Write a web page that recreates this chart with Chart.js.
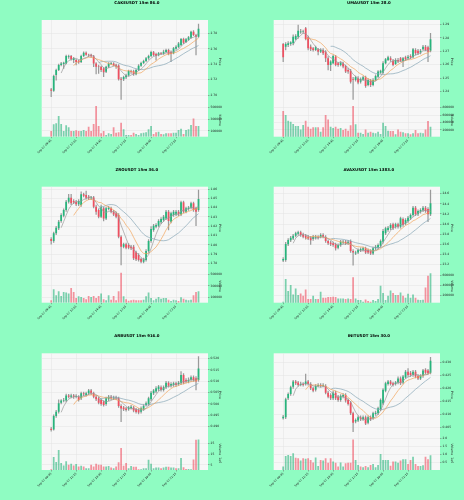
<!DOCTYPE html>
<html><head><meta charset="utf-8">
<script src="https://cdn.jsdelivr.net/npm/chart.js@4.4.1/dist/chart.umd.min.js"></script>
<style>
html,body{margin:0;padding:0;background:#8ffcc2;}
#wrap{position:relative;width:464px;height:500px;overflow:hidden;background:#8ffcc2;}
canvas{position:absolute;}
</style></head><body><div id="wrap"></div>
<script>
const times = ['Sep 07 09:45','Sep 07 10:00','Sep 07 10:15','Sep 07 10:30','Sep 07 10:45','Sep 07 11:00','Sep 07 11:15','Sep 07 11:30','Sep 07 11:45','Sep 07 12:00',
'Sep 07 12:15','Sep 07 12:30','Sep 07 12:45','Sep 07 13:00','Sep 07 13:15','Sep 07 13:30','Sep 07 13:45','Sep 07 14:00','Sep 07 14:15','Sep 07 14:30',
'Sep 07 14:45','Sep 07 15:00','Sep 07 15:15','Sep 07 15:30','Sep 07 15:45','Sep 07 16:00','Sep 07 16:15','Sep 07 16:30','Sep 07 16:45','Sep 07 17:00',
'Sep 07 17:15','Sep 07 17:30','Sep 07 17:45','Sep 07 18:00','Sep 07 18:15','Sep 07 18:30','Sep 07 18:45','Sep 07 19:00','Sep 07 19:15','Sep 07 19:30',
'Sep 07 19:45','Sep 07 20:00','Sep 07 20:15','Sep 07 20:30','Sep 07 20:45','Sep 07 21:00','Sep 07 21:15','Sep 07 21:30','Sep 07 21:45','Sep 07 22:00',
'Sep 07 22:15','Sep 07 22:30','Sep 07 22:45','Sep 07 23:00','Sep 07 23:15','Sep 07 23:30','Sep 07 23:45','Sep 08 00:00','Sep 08 00:15','Sep 08 00:30'];
const tickIndex = [0,10,20,30,40,50];
const maPeriods = [5,10,20];

// ---- CAKEUSDT ----  [open, high, low, close]
const cakeOHLC = [[2.7074,2.7087,2.6979,2.7057],[2.7057,2.7260,2.7048,2.7247],[2.7260,2.7338,2.7195,2.7325],[2.7325,2.7403,2.7316,2.7390],[2.7390,2.7424,2.7377,2.7411],[2.7403,2.7428,2.7346,2.7420],[2.7411,2.7519,2.7403,2.7506],[2.7498,2.7519,2.7476,2.7506],[2.7506,2.7515,2.7454,2.7463],[2.7454,2.7489,2.7420,2.7476],
[2.7454,2.7463,2.7390,2.7428],[2.7446,2.7454,2.7411,2.7424],[2.7428,2.7519,2.7420,2.7506],[2.7506,2.7562,2.7498,2.7549],[2.7549,2.7562,2.7515,2.7524],[2.7524,2.7532,2.7498,2.7515],[2.7524,2.7532,2.7489,2.7502],[2.7502,2.7515,2.7368,2.7411],[2.7411,2.7420,2.7273,2.7368],[2.7368,2.7390,2.7282,2.7364],
[2.7368,2.7377,2.7303,2.7325],[2.7346,2.7355,2.7238,2.7295],[2.7303,2.7377,2.7290,2.7368],[2.7368,2.7420,2.7355,2.7411],[2.7407,2.7424,2.7394,2.7415],[2.7411,2.7420,2.7377,2.7385],[2.7394,2.7403,2.7346,2.7368],[2.7385,2.7394,2.7195,2.7204],[2.7212,2.7230,2.6945,2.7200],[2.7204,2.7247,2.7187,2.7234],
[2.7230,2.7273,2.7212,2.7256],[2.7256,2.7325,2.7247,2.7312],[2.7312,2.7325,2.7282,2.7299],[2.7308,2.7325,2.7256,2.7269],[2.7269,2.7338,2.7260,2.7325],[2.7325,2.7394,2.7316,2.7381],[2.7381,2.7428,2.7372,2.7415],[2.7415,2.7454,2.7407,2.7441],[2.7441,2.7489,2.7433,2.7476],[2.7476,2.7519,2.7463,2.7506],
[2.7506,2.7571,2.7498,2.7558],[2.7554,2.7567,2.7506,2.7519],[2.7532,2.7545,2.7454,2.7506],[2.7515,2.7554,2.7506,2.7541],[2.7541,2.7554,2.7524,2.7532],[2.7536,2.7584,2.7528,2.7562],[2.7558,2.7597,2.7549,2.7584],[2.7584,2.7597,2.7519,2.7532],[2.7562,2.7575,2.7433,2.7532],[2.7541,2.7619,2.7532,2.7606],
[2.7601,2.7640,2.7593,2.7627],[2.7623,2.7683,2.7614,2.7670],[2.7649,2.7735,2.7640,2.7727],[2.7727,2.7740,2.7666,2.7679],[2.7688,2.7735,2.7679,2.7722],[2.7718,2.7761,2.7709,2.7748],[2.7744,2.7830,2.7735,2.7822],[2.7822,2.7835,2.7770,2.7778],[2.7778,2.7787,2.7519,2.7757],[2.7757,2.7921,2.7748,2.7860]];
const cakeVol = [97000,210000,227000,352000,216000,97000,193000,159000,97000,97000,108000,97000,97000,114000,97000,170000,97000,216000,523000,182000,57000,97000,28000,57000,45000,159000,68000,74000,239000,125000,28000,28000,28000,68000,45000,28000,57000,68000,74000,125000,182000,45000,74000,85000,45000,40000,57000,57000,57000,68000,68000,114000,136000,45000,114000,125000,199000,312000,182000,182000];
const cakePriceTicks = [2.70,2.72,2.74,2.76,2.78];
const cakeVolTicks = [100000,200000,300000,400000,500000];

// ---- UMAUSDT ----
const umaOHLC = [[1.2754,1.2759,1.2623,1.2655],[1.2734,1.2764,1.2709,1.2754],[1.2747,1.2771,1.2734,1.2759],[1.2754,1.2771,1.2744,1.2766],[1.2759,1.2821,1.2747,1.2808],[1.2789,1.2823,1.2784,1.2813],[1.2808,1.2895,1.2796,1.2853],[1.2841,1.2863,1.2833,1.2846],[1.2846,1.2858,1.2833,1.2851],[1.2870,1.2878,1.2784,1.2791],
[1.2803,1.2813,1.2709,1.2722],[1.2734,1.2747,1.2704,1.2714],[1.2722,1.2729,1.2700,1.2709],[1.2709,1.2739,1.2704,1.2729],[1.2714,1.2722,1.2672,1.2697],[1.2697,1.2719,1.2690,1.2709],[1.2709,1.2719,1.2675,1.2685],[1.2697,1.2704,1.2623,1.2648],[1.2648,1.2660,1.2561,1.2598],[1.2598,1.2630,1.2556,1.2623],
[1.2610,1.2672,1.2605,1.2665],[1.2660,1.2670,1.2591,1.2598],[1.2610,1.2618,1.2588,1.2598],[1.2598,1.2623,1.2591,1.2615],[1.2610,1.2620,1.2576,1.2586],[1.2591,1.2598,1.2541,1.2549],[1.2561,1.2573,1.2536,1.2549],[1.2556,1.2566,1.2462,1.2474],[1.2492,1.2506,1.2343,1.2487],[1.2487,1.2516,1.2477,1.2506],
[1.2499,1.2511,1.2457,1.2467],[1.2474,1.2502,1.2462,1.2492],[1.2487,1.2516,1.2482,1.2506],[1.2506,1.2516,1.2432,1.2442],[1.2450,1.2497,1.2442,1.2487],[1.2482,1.2492,1.2437,1.2450],[1.2450,1.2497,1.2442,1.2487],[1.2487,1.2524,1.2482,1.2516],[1.2511,1.2556,1.2506,1.2549],[1.2541,1.2561,1.2536,1.2556],
[1.2541,1.2623,1.2536,1.2610],[1.2610,1.2648,1.2605,1.2640],[1.2635,1.2665,1.2630,1.2655],[1.2648,1.2660,1.2625,1.2635],[1.2630,1.2640,1.2591,1.2598],[1.2605,1.2645,1.2601,1.2635],[1.2635,1.2648,1.2615,1.2623],[1.2648,1.2655,1.2623,1.2630],[1.2628,1.2655,1.2586,1.2648],[1.2655,1.2665,1.2630,1.2640],
[1.2648,1.2670,1.2640,1.2660],[1.2665,1.2675,1.2645,1.2655],[1.2655,1.2722,1.2650,1.2714],[1.2709,1.2719,1.2672,1.2685],[1.2704,1.2714,1.2675,1.2685],[1.2690,1.2714,1.2680,1.2704],[1.2714,1.2744,1.2709,1.2734],[1.2734,1.2744,1.2704,1.2709],[1.2729,1.2739,1.2623,1.2697],[1.2704,1.2833,1.2695,1.2789]];
const umaVol = [708000,601000,448000,421000,359000,305000,305000,215000,332000,448000,287000,233000,269000,269000,269000,152000,269000,601000,484000,287000,251000,287000,233000,251000,197000,233000,179000,323000,843000,350000,126000,126000,90000,215000,126000,152000,126000,108000,152000,90000,395000,305000,179000,170000,170000,81000,215000,152000,135000,108000,108000,81000,108000,197000,108000,126000,108000,215000,439000,287000];
const umaPriceTicks = [1.24,1.25,1.26,1.27,1.28,1.29];
const umaVolTicks = [200000,400000,600000,800000];

// ---- ZROUSDT ----
const zroOHLC = [[1.8062,1.8076,1.8005,1.8040],[1.8040,1.8137,1.8026,1.8123],[1.8123,1.8198,1.8109,1.8184],[1.8177,1.8263,1.8162,1.8248],[1.8256,1.8335,1.8241,1.8320],[1.8313,1.8388,1.8299,1.8374],[1.8374,1.8478,1.8360,1.8464],[1.8464,1.8543,1.8449,1.8507],[1.8507,1.8543,1.8431,1.8446],[1.8471,1.8485,1.8442,1.8457],
[1.8464,1.8478,1.8421,1.8435],[1.8435,1.8485,1.8421,1.8471],[1.8428,1.8571,1.8413,1.8543],[1.8543,1.8557,1.8514,1.8528],[1.8535,1.8578,1.8492,1.8507],[1.8517,1.8532,1.8485,1.8500],[1.8500,1.8521,1.8485,1.8510],[1.8510,1.8521,1.8396,1.8410],[1.8410,1.8428,1.8327,1.8356],[1.8374,1.8388,1.8288,1.8302],
[1.8302,1.8428,1.8292,1.8410],[1.8392,1.8406,1.8256,1.8284],[1.8284,1.8406,1.8270,1.8392],[1.8385,1.8413,1.8374,1.8399],[1.8392,1.8406,1.8342,1.8356],[1.8356,1.8370,1.8313,1.8327],[1.8338,1.8352,1.8288,1.8302],[1.8320,1.8335,1.8073,1.8087],[1.8087,1.8098,1.7782,1.7979],[1.7979,1.8019,1.7965,1.8005],
[1.8005,1.8019,1.7954,1.7969],[1.7997,1.8012,1.7954,1.7969],[1.7979,1.7994,1.7947,1.7962],[1.7979,1.7994,1.7840,1.7854],[1.7918,1.7933,1.7829,1.7843],[1.7890,1.7904,1.7822,1.7836],[1.7847,1.7857,1.7804,1.7818],[1.7818,1.7857,1.7804,1.7843],[1.7836,1.7947,1.7822,1.7933],[1.7933,1.8055,1.7918,1.8040],
[1.8040,1.8195,1.8026,1.8170],[1.8159,1.8220,1.8144,1.8205],[1.8195,1.8227,1.8180,1.8213],[1.8205,1.8270,1.8191,1.8256],[1.8241,1.8292,1.8227,1.8277],[1.8266,1.8317,1.8252,1.8302],[1.8284,1.8370,1.8270,1.8356],[1.8356,1.8370,1.8159,1.8256],[1.8248,1.8352,1.8234,1.8338],[1.8320,1.8370,1.8306,1.8356],
[1.8327,1.8370,1.8313,1.8356],[1.8356,1.8370,1.8313,1.8327],[1.8327,1.8471,1.8313,1.8457],[1.8457,1.8471,1.8342,1.8356],[1.8356,1.8406,1.8342,1.8392],[1.8385,1.8413,1.8370,1.8399],[1.8399,1.8460,1.8385,1.8446],[1.8446,1.8460,1.8360,1.8374],[1.8392,1.8406,1.8205,1.8356],[1.8374,1.8589,1.8360,1.8492]];
const zroVol = [42000,238000,131000,202000,119000,190000,179000,161000,262000,190000,83000,113000,101000,83000,60000,119000,101000,119000,83000,119000,161000,60000,42000,131000,54000,119000,42000,202000,530000,113000,60000,36000,42000,54000,42000,42000,42000,54000,113000,179000,83000,42000,71000,101000,71000,83000,83000,54000,30000,54000,42000,30000,95000,71000,54000,42000,54000,131000,190000,202000];
const zroPriceTicks = [1.78,1.79,1.80,1.81,1.82,1.83,1.84,1.85,1.86];
const zroVolTicks = [100000,200000,300000,400000,500000];

// ---- AVAXUSDT ----
const avaxOHLC = [[23.284,23.337,23.258,23.311],[23.291,23.639,23.264,23.607],[23.600,23.712,23.574,23.686],[23.679,23.758,23.653,23.732],[23.718,23.797,23.692,23.771],[23.771,23.843,23.745,23.817],[23.811,23.863,23.784,23.837],[23.837,23.863,23.758,23.784],[23.797,23.824,23.725,23.751],[23.771,23.797,23.705,23.732],
[23.751,23.778,23.692,23.718],[23.732,23.758,23.600,23.679],[23.705,23.778,23.679,23.751],[23.732,23.778,23.705,23.751],[23.745,23.771,23.705,23.732],[23.751,23.811,23.725,23.784],[23.784,23.811,23.725,23.751],[23.745,23.771,23.639,23.666],[23.666,23.692,23.593,23.620],[23.639,23.666,23.574,23.600],
[23.620,23.646,23.561,23.587],[23.600,23.626,23.488,23.521],[23.534,23.613,23.508,23.587],[23.587,23.679,23.561,23.653],[23.639,23.679,23.613,23.653],[23.653,23.679,23.593,23.620],[23.620,23.679,23.593,23.653],[23.666,23.692,23.442,23.468],[23.468,23.495,23.192,23.442],[23.422,23.468,23.396,23.442],
[23.442,23.514,23.416,23.488],[23.482,23.534,23.455,23.508],[23.495,23.547,23.468,23.521],[23.521,23.547,23.416,23.442],[23.488,23.514,23.416,23.442],[23.468,23.495,23.396,23.422],[23.422,23.547,23.396,23.521],[23.521,23.580,23.495,23.554],[23.534,23.613,23.508,23.587],[23.574,23.692,23.547,23.666],
[23.653,23.896,23.626,23.863],[23.817,23.942,23.791,23.916],[23.883,23.955,23.857,23.929],[23.916,24.008,23.889,23.982],[23.995,24.021,23.889,23.916],[23.949,24.021,23.922,23.995],[23.995,24.021,23.922,23.949],[23.949,24.139,23.922,24.113],[24.100,24.126,23.955,23.982],[24.014,24.107,23.988,24.080],
[24.061,24.153,24.034,24.126],[24.113,24.205,24.087,24.179],[24.179,24.350,24.153,24.324],[24.324,24.350,24.166,24.192],[24.192,24.284,24.166,24.258],[24.245,24.304,24.218,24.278],[24.271,24.350,24.245,24.324],[24.324,24.350,24.232,24.258],[24.297,24.324,24.047,24.192],[24.192,24.672,24.166,24.409]];
const avaxVol = [67000,520000,280000,400000,213000,333000,200000,233000,187000,313000,120000,120000,187000,120000,120000,267000,147000,147000,160000,160000,167000,160000,133000,133000,133000,120000,133000,120000,553000,133000,100000,100000,67000,113000,80000,67000,100000,80000,120000,387000,240000,100000,187000,293000,240000,200000,200000,253000,187000,147000,227000,147000,213000,147000,107000,100000,107000,353000,587000,633000];
const avaxPriceTicks = [23.2,23.4,23.6,23.8,24.0,24.2,24.4,24.6];
const avaxVolTicks = [200000,400000,600000];

// ---- ARBUSDT ----
const arbOHLC = [[0.4891,0.4897,0.4880,0.4885],[0.4888,0.4952,0.4885,0.4947],[0.4947,0.4972,0.4941,0.4966],[0.4966,0.5018,0.4960,0.5003],[0.5006,0.5019,0.5000,0.5015],[0.5015,0.5025,0.5009,0.5018],[0.5015,0.5044,0.5009,0.5038],[0.5038,0.5043,0.5027,0.5032],[0.5032,0.5044,0.5027,0.5038],[0.5038,0.5043,0.5025,0.5032],
[0.5032,0.5041,0.5027,0.5035],[0.5032,0.5037,0.5012,0.5018],[0.5025,0.5053,0.5019,0.5047],[0.5047,0.5053,0.5037,0.5043],[0.5040,0.5053,0.5035,0.5047],[0.5047,0.5065,0.5041,0.5059],[0.5059,0.5065,0.5041,0.5047],[0.5047,0.5053,0.5027,0.5032],[0.5032,0.5038,0.5015,0.5021],[0.5025,0.5031,0.5000,0.5006],
[0.5018,0.5024,0.4994,0.5000],[0.5011,0.5015,0.4990,0.4996],[0.5000,0.5031,0.4994,0.5025],[0.5021,0.5038,0.5015,0.5032],[0.5032,0.5038,0.5019,0.5025],[0.5025,0.5035,0.5019,0.5029],[0.5029,0.5035,0.5019,0.5025],[0.5025,0.5031,0.4985,0.4991],[0.4991,0.4997,0.4922,0.4980],[0.4985,0.4990,0.4971,0.4977],
[0.4980,0.4985,0.4968,0.4974],[0.4977,0.4990,0.4972,0.4985],[0.4981,0.4994,0.4977,0.4988],[0.4985,0.4990,0.4965,0.4971],[0.4977,0.4981,0.4959,0.4965],[0.4974,0.4980,0.4956,0.4962],[0.4966,0.4987,0.4960,0.4981],[0.4977,0.4997,0.4972,0.4991],[0.4996,0.5009,0.4990,0.5003],[0.5000,0.5031,0.4994,0.5025],
[0.5021,0.5056,0.5015,0.5050],[0.5047,0.5065,0.5041,0.5059],[0.5055,0.5077,0.5049,0.5069],[0.5065,0.5082,0.5059,0.5077],[0.5074,0.5080,0.5056,0.5062],[0.5062,0.5080,0.5056,0.5074],[0.5074,0.5100,0.5068,0.5094],[0.5094,0.5099,0.5074,0.5080],[0.5080,0.5094,0.5074,0.5088],[0.5084,0.5097,0.5078,0.5091],
[0.5091,0.5097,0.5078,0.5084],[0.5088,0.5100,0.5082,0.5094],[0.5091,0.5143,0.5085,0.5128],[0.5128,0.5134,0.5088,0.5094],[0.5106,0.5112,0.5093,0.5099],[0.5099,0.5115,0.5093,0.5106],[0.5106,0.5124,0.5100,0.5118],[0.5118,0.5124,0.5100,0.5106],[0.5113,0.5121,0.5062,0.5099],[0.5106,0.5209,0.5100,0.5157]];
const arbVol = [700000,12300000,7700000,19000000,6700000,4300000,8300000,5000000,6000000,4300000,5700000,3300000,4000000,3300000,1700000,1700000,5000000,3300000,6000000,5000000,5000000,3300000,3300000,3700000,2300000,1700000,3300000,7300000,21000000,4000000,6700000,1700000,3700000,3000000,3000000,700000,700000,1700000,1700000,9700000,6000000,1700000,2300000,2300000,1700000,2300000,3000000,3000000,2300000,2300000,1700000,1700000,11300000,2700000,1000000,1000000,700000,10000000,28700000,29000000];
const arbPriceTicks = [0.490,0.495,0.500,0.505,0.510,0.515,0.520];
const arbVolTicks = [5000000,10000000,15000000,20000000,25000000];

// ---- INITUSDT ----
const initOHLC = [[0.4085,0.4096,0.4081,0.4091],[0.4089,0.4162,0.4083,0.4158],[0.4162,0.4183,0.4156,0.4178],[0.4178,0.4209,0.4173,0.4204],[0.4206,0.4231,0.4200,0.4226],[0.4226,0.4231,0.4214,0.4219],[0.4222,0.4227,0.4208,0.4213],[0.4213,0.4224,0.4209,0.4217],[0.4217,0.4222,0.4208,0.4213],[0.4217,0.4255,0.4212,0.4226],
[0.4226,0.4231,0.4212,0.4217],[0.4217,0.4222,0.4195,0.4200],[0.4200,0.4205,0.4186,0.4191],[0.4194,0.4214,0.4189,0.4209],[0.4209,0.4218,0.4205,0.4213],[0.4213,0.4218,0.4204,0.4209],[0.4209,0.4218,0.4205,0.4213],[0.4209,0.4214,0.4178,0.4183],[0.4183,0.4189,0.4163,0.4168],[0.4174,0.4180,0.4156,0.4162],
[0.4162,0.4189,0.4156,0.4183],[0.4183,0.4189,0.4156,0.4162],[0.4168,0.4173,0.4150,0.4155],[0.4155,0.4176,0.4150,0.4171],[0.4168,0.4180,0.4163,0.4174],[0.4174,0.4180,0.4147,0.4153],[0.4155,0.4160,0.4135,0.4140],[0.4145,0.4150,0.4099,0.4104],[0.4104,0.4109,0.4033,0.4068],[0.4072,0.4083,0.4067,0.4078],
[0.4076,0.4094,0.4072,0.4089],[0.4089,0.4094,0.4076,0.4081],[0.4081,0.4094,0.4077,0.4089],[0.4089,0.4094,0.4060,0.4065],[0.4068,0.4094,0.4063,0.4089],[0.4089,0.4094,0.4076,0.4081],[0.4085,0.4109,0.4080,0.4104],[0.4101,0.4112,0.4096,0.4106],[0.4104,0.4128,0.4099,0.4123],[0.4119,0.4160,0.4114,0.4155],
[0.4142,0.4199,0.4137,0.4194],[0.4191,0.4224,0.4186,0.4219],[0.4217,0.4231,0.4212,0.4226],[0.4226,0.4231,0.4212,0.4217],[0.4219,0.4224,0.4208,0.4213],[0.4217,0.4227,0.4212,0.4222],[0.4222,0.4244,0.4217,0.4238],[0.4238,0.4244,0.4214,0.4219],[0.4222,0.4250,0.4217,0.4245],[0.4242,0.4269,0.4238,0.4264],
[0.4264,0.4276,0.4246,0.4251],[0.4260,0.4265,0.4246,0.4251],[0.4251,0.4269,0.4246,0.4264],[0.4264,0.4269,0.4240,0.4245],[0.4247,0.4253,0.4233,0.4238],[0.4238,0.4253,0.4233,0.4247],[0.4247,0.4273,0.4242,0.4268],[0.4271,0.4276,0.4255,0.4260],[0.4268,0.4273,0.4253,0.4258],[0.4260,0.4319,0.4255,0.4306]];
const initVol = [250000,910000,970000,910000,1070000,800000,760000,620000,760000,740000,760000,660000,510000,820000,290000,660000,620000,760000,490000,760000,560000,490000,250000,510000,250000,450000,490000,490000,1930000,660000,350000,250000,210000,290000,210000,350000,410000,210000,350000,1030000,660000,660000,660000,310000,560000,560000,490000,620000,700000,700000,410000,660000,860000,410000,290000,290000,330000,860000,700000,950000];
const initPriceTicks = [0.405,0.410,0.415,0.420,0.425,0.430];
const initVolTicks = [500000,1000000,1500000,2000000];

const panels = [
  {title:'CAKEUSDT 15m 86.0', ohlc:cakeOHLC, vol:cakeVol, pt:cakePriceTicks, vt:cakeVolTicks, pMin:2.6893, pMax:2.7973, vMin:0, vMax:568000, dec:2, vDiv:1, vDec:0, vTitle:'Volume'},
  {title:'UMAUSDT 15m 28.0', ohlc:umaOHLC, vol:umaVol, pt:umaPriceTicks, vt:umaVolTicks, pMin:1.2313, pMax:1.2932, vMin:18000, vMax:915000, dec:2, vDiv:1, vDec:0, vTitle:'Volume'},
  {title:'ZROUSDT 15m 36.0', ohlc:zroOHLC, vol:zroVol, pt:zroPriceTicks, vt:zroVolTicks, pMin:1.7733, pMax:1.8625, vMin:0, vMax:586000, dec:2, vDiv:1, vDec:0, vTitle:'Volume'},
  {title:'AVAXUSDT 15m 1383.0', ohlc:avaxOHLC, vol:avaxVol, pt:avaxPriceTicks, vt:avaxVolTicks, pMin:23.103, pMax:24.738, vMin:47000, vMax:709000, dec:1, vDiv:1, vDec:0, vTitle:'Volume'},
  {title:'ARBUSDT 15m 916.0', ohlc:arbOHLC, vol:arbVol, pt:arbPriceTicks, vt:arbVolTicks, pMin:0.4856, pMax:0.52235, vMin:0, vMax:31700000, dec:3, vDiv:1e6, vDec:0, vTitle:'Volume  1e6'},
  {title:'INITUSDT 15m 30.0', ohlc:initOHLC, vol:initVol, pt:initPriceTicks, vt:initVolTicks, pMin:0.40141, pMax:0.43346, vMin:40000, vMax:2100000, dec:3, vDiv:1e6, vDec:1, vTitle:'Volume  1e6'}
];
const layouts = [
  {left:0,   top:0,   h:165, tt:0.66, tb:14.66, xh:28.3},
  {left:232, top:0,   h:165, tt:0.66, tb:14.66, xh:28.3},
  {left:0,   top:165, h:165, tt:2.66, tb:14.36, xh:27.3},
  {left:232, top:165, h:165, tt:2.66, tb:14.36, xh:27.3},
  {left:0,   top:330, h:170, tt:3.66, tb:14.96, xh:30},
  {left:232, top:330, h:170, tt:3.66, tb:14.96, xh:30}
];

const FONT = 'DejaVu Sans';
const UP = '#26b57c', DOWN = '#ef4f60', WICK = '#9a9a9a';
const UPV = 'rgba(38,181,124,0.6)', DOWNV = 'rgba(239,79,96,0.6)';
const GRID = '#e2e2e2';
const maColors = ['#9a9a9a', '#f2a55c', '#86a6b6'];

function sma(arr, n) {
  return arr.map((_, i) => i < n - 1 ? null : arr.slice(i - n + 1, i + 1).reduce((a, b) => a + b, 0) / n);
}

const bgPlugin = {
  id: 'plotbg',
  beforeDraw(c) {
    const a = c.chartArea, ctx = c.ctx;
    ctx.save();
    ctx.fillStyle = '#f7f7f7';
    ctx.fillRect(a.left, a.top, a.right - a.left, a.bottom - a.top);
    ctx.restore();
  }
};

const wrap = document.getElementById('wrap');
panels.forEach((p, k) => {
  const L = layouts[k];
  const cv = document.createElement('canvas');
  cv.width = 232; cv.height = L.h;
  cv.style.left = L.left + 'px'; cv.style.top = L.top + 'px';
  cv.style.width = '232px'; cv.style.height = L.h + 'px';
  wrap.appendChild(cv);
  const closes = p.ohlc.map(d => d[3]);
  const up = p.ohlc.map(d => d[3] >= d[0]);
  const tickFont = {family: FONT, size: 3};
  new Chart(cv, {
    type: 'bar',
    data: {
      datasets: [
        ...maPeriods.map((n, j) => ({
          type: 'line', data: sma(closes, n).map((v, i) => ({x: i, y: v})),
          borderColor: maColors[j], borderWidth: 0.7, pointRadius: 0, yAxisID: 'y', order: 0, spanGaps: false
        })),
        {data: p.ohlc.map((d, i) => ({x: i, y: [d[0], d[3]]})), backgroundColor: up.map(u => u ? UP : DOWN),
         yAxisID: 'y', order: 1, grouped: false, barPercentage: 0.7, categoryPercentage: 1, minBarLength: 0.6, borderWidth: 0},
        {data: p.ohlc.map((d, i) => ({x: i, y: [d[2], d[1]]})), backgroundColor: WICK,
         yAxisID: 'y', order: 2, grouped: false, barThickness: 0.6, borderWidth: 0},
        {data: p.vol.map((v, i) => ({x: i, y: v})), backgroundColor: up.map(u => u ? UPV : DOWNV),
         yAxisID: 'yv', order: 3, grouped: false, barPercentage: 0.7, categoryPercentage: 1, borderWidth: 0}
      ]
    },
    options: {
      responsive: false, animation: false, devicePixelRatio: 1,
      layout: {padding: {left: 41.7, right: 0, top: 0, bottom: 0}},
      plugins: {
        legend: {display: false}, tooltip: {enabled: false},
        title: {display: true, text: p.title, color: '#000', font: {family: FONT, size: 3.9, weight: 'bold'}, padding: {top: L.tt, bottom: L.tb}}
      },
      scales: {
        x: {
          type: 'linear', min: -3.8, max: 62.8, offset: false,
          afterBuildTicks: s => { s.ticks = tickIndex.map(v => ({value: v})); },
          afterFit: s => { s.height = L.xh; },
          ticks: {autoSkip: false, maxRotation: 45, minRotation: 45, padding: 0.5, font: {family: FONT, size: 2.8}, color: '#222',
                  callback: v => times[v]},
          grid: {color: GRID, lineWidth: 0.5, offset: false, tickLength: 1.5, tickColor: '#666'},
          border: {display: false}
        },
        y: {
          type: 'linear', position: 'right', stack: 'panel', stackWeight: 5, min: p.pMin, max: p.pMax,
          afterBuildTicks: s => { s.ticks = p.pt.map(v => ({value: v})); },
          afterFit: s => { s.width = 24; },
          ticks: {padding: 1, font: tickFont, color: '#222', callback: v => Number(v).toFixed(p.dec)},
          grid: {color: GRID, lineWidth: 0.5, tickLength: 1.5, tickColor: '#666'},
          border: {display: false},
          title: {display: true, text: 'Price', color: '#222', font: {family: FONT, size: 3.2}, padding: {top: 10.6, bottom: 0}}
        },
        yv: {
          type: 'linear', position: 'right', stack: 'panel', stackWeight: 2, min: p.vMin, max: p.vMax,
          afterBuildTicks: s => { s.ticks = p.vt.map(v => ({value: v})); },
          afterFit: s => { s.width = 24; },
          ticks: {padding: 1, font: tickFont, color: '#222', callback: v => (v / p.vDiv).toFixed(p.vDec)},
          grid: {color: GRID, lineWidth: 0.5, tickLength: 1.5, tickColor: '#666'},
          border: {display: false},
          title: {display: true, text: p.vTitle, color: '#222', font: {family: FONT, size: 3.2}, padding: {top: 10.6, bottom: 0}}
        }
      }
    },
    plugins: [bgPlugin]
  });
});
</script>
</body></html>
